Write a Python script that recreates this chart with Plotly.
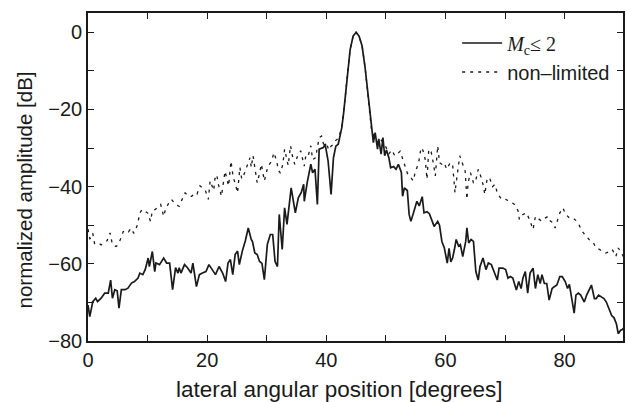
import plotly.graph_objects as go

# Beam profile with the coherence-factor limit M_c <= 2
angle_mc = [
    0.0, 0.3, 0.8, 1.3, 1.6, 2.2, 2.8, 3.4, 3.8, 4.1, 4.5, 4.9, 5.2, 5.6, 6.2, 6.7,
    7.3, 7.8, 8.4, 8.7, 9.2, 9.6, 10.1, 10.3, 10.8, 11.2, 11.4, 12.0, 12.7, 13.2,
    13.7, 14.2, 14.7, 15.1, 15.3, 15.6, 16.2, 16.7, 17.3, 17.6, 18.2, 18.7, 19.2,
    19.8, 20.3, 20.9, 21.4, 22.0, 22.6, 23.1, 23.5, 23.9, 24.3, 24.7, 25.1, 25.4,
    25.9, 26.4, 26.9, 27.4, 27.6, 28.0, 28.4, 28.8, 29.2, 29.6, 30.1, 30.6, 31.0,
    31.4, 31.8, 32.1, 32.6, 33.0, 33.4, 34.1, 34.8, 35.3, 35.8, 36.2, 36.3, 36.8,
    37.4, 37.7, 38.1, 38.5, 38.8, 39.5, 39.8, 40.3, 40.8, 41.2, 41.6, 42.0, 42.6,
    42.9, 43.2, 43.6, 44.0, 44.5, 45.0, 45.5, 46.0, 46.5, 47.0, 47.3, 47.6, 47.9,
    48.2, 48.6, 48.8, 49.2, 49.5, 49.8, 50.1, 50.5, 50.8, 51.3, 51.7, 52.1, 52.6,
    52.8, 53.1, 53.6, 53.9, 54.2, 54.8, 55.2, 55.6, 56.1, 56.4, 56.9, 57.3, 57.8,
    58.1, 58.7, 59.0, 59.4, 59.8, 60.3, 60.6, 60.9, 61.2, 61.5, 61.8, 62.2, 62.5,
    62.9, 63.4, 63.6, 63.9, 64.3, 64.7, 65.1, 65.5, 65.8, 66.3, 66.8, 67.2, 67.7,
    68.2, 68.7, 69.0, 69.6, 70.1, 70.5, 70.9, 71.3, 71.9, 72.3, 72.7, 73.0, 73.4,
    73.8, 74.2, 74.7, 75.1, 75.5, 75.9, 76.2, 76.6, 77.0, 77.4, 77.9, 78.2, 78.7,
    79.2, 79.6, 80.1, 80.5, 80.8, 81.2, 81.6, 81.9, 82.3, 82.7, 83.3, 83.7, 84.1,
    84.5, 85.0, 85.3, 85.7, 86.2, 86.6, 87.0, 87.4, 87.9, 88.3, 88.7, 89.0, 89.4,
    89.7, 90.0,
]
amp_mc = [
    -70.7, -73.7, -69.8, -68.9, -69.8, -68.9, -67.6, -67.6, -64.2, -68.9, -66.7,
    -67.0, -71.5, -66.7, -66.7, -66.3, -65.0, -64.6, -63.7, -62.4, -62.8, -61.5,
    -58.5, -60.7, -56.8, -62.0, -59.8, -60.2, -58.5, -59.8, -59.8, -66.7, -61.0,
    -62.4, -61.0, -62.4, -60.2, -61.0, -62.4, -59.8, -65.9, -62.8, -62.4, -62.0,
    -60.2, -61.5, -62.8, -60.7, -62.4, -64.6, -59.8, -58.9, -62.8, -57.6, -56.7,
    -60.2, -56.7, -54.1, -50.7, -53.7, -54.2, -57.2, -57.6, -59.4, -59.9, -64.1,
    -55.0, -52.4, -52.4, -59.4, -60.7, -47.2, -56.3, -45.5, -49.8, -40.3, -46.8,
    -42.9, -41.5, -39.4, -43.8, -38.9, -34.2, -36.4, -35.5, -44.6, -30.3, -29.9,
    -29.0, -33.3, -42.0, -32.5, -29.5, -29.0, -24.7, -21.0, -16.5, -10.0, -4.5,
    -1.0, 0.0, -1.0, -3.5, -9.0, -16.0, -20.5, -25.5, -28.6, -26.0, -30.3, -27.6,
    -31.6, -27.3, -32.0, -30.5, -32.5, -35.1, -34.8, -35.5, -34.2, -36.3, -42.5,
    -40.3, -41.0, -47.2, -49.0, -45.9, -43.8, -45.0, -42.6, -46.8, -46.5, -47.0,
    -49.2, -50.3, -49.0, -50.0, -54.2, -55.8, -59.8, -56.0, -59.5, -58.5, -56.3,
    -53.7, -55.4, -55.0, -58.1, -54.2, -50.7, -54.6, -53.7, -54.2, -62.0, -64.2,
    -60.7, -58.5, -61.5, -59.8, -60.2, -62.0, -64.2, -61.1, -61.1, -61.5, -63.7,
    -63.3, -63.7, -66.8, -64.6, -66.4, -63.7, -62.0, -67.6, -62.4, -61.1, -66.4,
    -62.8, -65.1, -62.8, -65.1, -65.1, -69.4, -66.4, -66.0, -65.5, -63.3, -63.3,
    -64.6, -66.4, -65.3, -69.0, -72.8, -68.1, -67.6, -68.1, -69.9, -68.1, -66.8,
    -65.5, -69.0, -69.0, -68.1, -68.5, -69.0, -69.9, -71.6, -73.4, -74.0, -75.6,
    -78.1, -77.2, -77.0, -76.5,
]

# Beam profile without the limit
angle_nl = [
    0.0, 0.3, 0.5, 0.8, 1.1, 1.7, 2.2, 2.8, 3.2, 3.7, 4.1, 4.7, 5.1, 5.5, 5.9, 6.3,
    6.8, 7.2, 7.7, 8.3, 8.7, 9.1, 9.6, 10.0, 10.5, 10.8, 11.3, 11.8, 12.2, 12.7,
    13.0, 13.6, 14.0, 14.7, 15.3, 15.8, 16.3, 16.9, 17.4, 18.0, 18.3, 18.8, 19.3,
    19.7, 20.2, 20.5, 21.1, 21.3, 21.6, 21.9, 22.4, 22.7, 23.0, 23.6, 24.0, 24.4,
    24.7, 25.1, 25.5, 25.8, 26.3, 26.8, 27.2, 27.4, 27.7, 28.1, 28.4, 28.8, 29.1,
    29.6, 30.0, 30.2, 30.8, 31.2, 31.6, 32.0, 32.3, 32.7, 33.0, 33.3, 33.6, 34.0,
    34.3, 34.7, 35.2, 35.7, 36.1, 36.3, 36.6, 37.0, 37.4, 37.7, 38.2, 38.8, 39.2,
    39.7, 40.0, 40.4, 40.8, 41.2, 41.6, 42.0, 42.6, 42.9, 43.2, 43.6, 44.0, 44.5,
    45.0, 45.5, 46.0, 46.5, 47.0, 47.3, 47.6, 48.0, 48.5, 49.0, 49.5, 49.9, 50.5,
    51.0, 51.5, 51.9, 52.4, 53.0, 53.6, 54.1, 54.6, 54.9, 55.5, 55.9, 56.2, 56.6,
    56.9, 57.2, 57.6, 58.0, 58.3, 58.7, 59.0, 59.4, 59.8, 60.2, 60.8, 61.2, 61.6,
    61.8, 62.2, 62.4, 62.9, 63.3, 63.6, 63.8, 64.2, 64.7, 65.0, 65.5, 65.9, 66.3,
    66.6, 67.0, 67.4, 67.9, 68.3, 68.7, 69.4, 70.1, 70.8, 71.6, 72.2, 72.4, 73.0,
    73.6, 74.1, 74.7, 75.1, 75.7, 76.1, 76.8, 77.2, 77.6, 78.0, 78.4, 78.8, 79.2,
    79.7, 80.2, 80.8, 81.4, 82.0, 82.4, 82.9, 83.6, 84.1, 84.7, 85.3, 85.9, 86.3,
    86.9, 87.6, 88.0, 88.6, 89.0, 89.4, 90.0,
]
amp_nl = [
    -51.0, -53.5, -53.3, -52.1, -54.7, -54.5, -55.1, -54.5, -54.0, -52.0, -55.0,
    -55.5, -55.0, -53.4, -51.7, -51.3, -51.7, -50.8, -52.1, -49.9, -46.8, -45.9,
    -46.3, -46.8, -49.0, -46.3, -45.9, -45.1, -44.6, -47.7, -45.9, -44.1, -43.3,
    -44.6, -45.1, -43.3, -41.6, -42.5, -42.5, -41.6, -41.9, -39.8, -40.5, -41.0,
    -43.3, -38.5, -41.0, -38.0, -36.9, -39.5, -42.5, -38.5, -36.0, -39.8, -33.4,
    -37.8, -39.0, -41.6, -35.0, -38.0, -36.4, -34.2, -32.5, -35.0, -32.0, -36.0,
    -39.0, -36.5, -34.2, -38.5, -36.0, -34.7, -33.5, -31.2, -33.0, -35.9, -36.5,
    -34.2, -30.3, -32.5, -34.5, -29.4, -32.0, -34.2, -32.0, -30.7, -33.0, -34.7,
    -31.6, -31.8, -29.4, -33.0, -32.5, -27.3, -26.9, -30.0, -28.5, -30.5, -29.5,
    -29.0, -28.0, -27.5, -24.7, -21.0, -16.5, -10.0, -4.5, -1.0, 0.0, -1.0, -3.5,
    -9.0, -16.0, -20.5, -25.5, -27.0, -28.5, -27.5, -28.5, -29.4, -31.5, -30.5,
    -32.0, -31.6, -30.8, -34.0, -36.5, -37.5, -38.5, -36.4, -33.8, -29.9, -30.5,
    -32.9, -38.1, -30.3, -31.0, -34.2, -37.2, -29.4, -33.8, -34.2, -33.8, -35.5,
    -33.8, -34.2, -41.6, -39.0, -33.8, -32.0, -34.2, -35.9, -43.3, -39.0, -36.4,
    -39.0, -39.0, -35.5, -37.2, -39.4, -42.0, -37.9, -37.7, -40.0, -39.4, -41.6,
    -43.3, -43.3, -43.8, -44.6, -46.3, -48.5, -47.2, -46.8, -48.5, -51.1, -47.7,
    -48.5, -48.9, -48.1, -47.7, -48.9, -49.3, -50.7, -48.9, -46.8, -45.5, -47.2,
    -48.1, -48.1, -48.9, -49.8, -51.5, -52.9, -53.7, -54.2, -55.9, -56.3, -56.8,
    -57.2, -56.8, -56.3, -58.1, -55.9, -56.8, -58.5,
]

x_title = "lateral angular position [degrees]"
y_title = "normalized amplitude [dB]"

ink = "#1a1a1a"
font_main = "Liberation Sans, Arial, sans-serif"

fig = go.Figure()
fig.add_trace(go.Scatter(
    x=angle_mc, y=amp_mc, mode="lines",
    name='<span style="font-family:Liberation Serif"><i>M</i><sub>c</sub>\u2264 2</span>',
    line=dict(color=ink, width=1.7),
))
fig.add_trace(go.Scatter(
    x=angle_nl, y=amp_nl, mode="lines",
    name="non\u2013limited",
    line=dict(color=ink, width=1.3, dash="3px,5px"),
))

tick_style = dict(ticks="inside", ticklen=6, tickwidth=1.3, tickcolor=ink)
axis_common = dict(
    showline=True, linecolor=ink, linewidth=1.6, mirror="allticks",
    showgrid=False, zeroline=False, tickmode="linear", tick0=0, dtick=20,
    tickfont=dict(family=font_main, size=20, color=ink),
    minor=dict(dtick=10, showgrid=False, **tick_style),
    **tick_style,
)

fig.update_xaxes(range=[0, 89.8], **axis_common)
fig.update_yaxes(range=[-80, 5], **axis_common)

# Axis titles placed as paper-anchored annotations
fig.add_annotation(
    text=x_title, xref="paper", yref="paper",
    x=0.47, y=-0.148, xanchor="center", yanchor="middle",
    showarrow=False, font=dict(family=font_main, size=22.5, color=ink),
)
fig.add_annotation(
    text=y_title, xref="paper", yref="paper",
    x=-0.119, y=0.46, xanchor="center", yanchor="middle", textangle=-90,
    showarrow=False, font=dict(family=font_main, size=20.5, color=ink),
)

fig.update_layout(
    width=626, height=402,
    margin=dict(l=88, r=1, t=13, b=61),
    paper_bgcolor="white", plot_bgcolor="white",
    showlegend=True,
    legend=dict(
        x=0.69, y=0.968, xanchor="left", yanchor="top",
        bgcolor="rgba(0,0,0,0)", borderwidth=0,
        font=dict(family=font_main, size=20, color=ink),
        tracegroupgap=0, itemwidth=40,
    ),
)

fig.write_html("out.html")
